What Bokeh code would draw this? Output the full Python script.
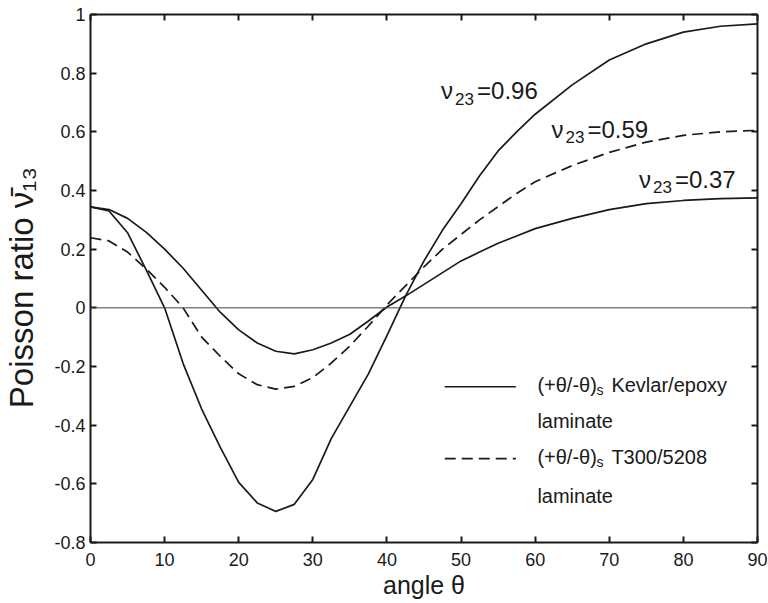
from bokeh.plotting import figure
from bokeh.models import Range1d, LinearAxis, FixedTicker, Label, Span
from bokeh.embed import file_html
from bokeh.resources import INLINE

FONT = "Liberation Sans"
INK = "#1a1a1a"

# ---- data ----
theta = [0, 2.5, 5, 7.5, 10, 12.5, 15, 17.5, 20, 22.5, 25, 27.5, 30, 32.5, 35,
         37.5, 40, 42.5, 45, 47.5, 50, 52.5, 55, 57.5, 60, 65, 70, 75, 80, 85, 90]

# Kevlar/epoxy, nu23 = 0.96 (solid)
nu13_kevlar_096 = [0.344, 0.33, 0.256, 0.13, 0.0, -0.19, -0.345, -0.475, -0.595,
                   -0.665, -0.694, -0.67, -0.585, -0.445, -0.335, -0.225, -0.095,
                   0.04, 0.16, 0.265, 0.355, 0.45, 0.535, 0.6, 0.66, 0.76, 0.845,
                   0.9, 0.94, 0.96, 0.968]
# Kevlar/epoxy, nu23 = 0.37 (solid)
nu13_kevlar_037 = [0.344, 0.335, 0.305, 0.258, 0.2, 0.135, 0.06, -0.015, -0.075,
                   -0.12, -0.148, -0.157, -0.143, -0.12, -0.09, -0.045, 0.003,
                   0.04, 0.08, 0.12, 0.16, 0.19, 0.22, 0.245, 0.27, 0.305, 0.335,
                   0.355, 0.366, 0.372, 0.375]
# T300/5208, nu23 = 0.59 (dashed)
nu13_t300_059 = [0.239, 0.228, 0.19, 0.133, 0.07, 0.0, -0.10, -0.165, -0.225,
                 -0.262, -0.277, -0.268, -0.238, -0.188, -0.13, -0.062, 0.01,
                 0.075, 0.14, 0.2, 0.25, 0.30, 0.345, 0.39, 0.43, 0.485, 0.53,
                 0.565, 0.588, 0.6, 0.605]

x_ticks = [0, 10, 20, 30, 40, 50, 60, 70, 80, 90]
x_tick_labels = ["0", "10", "20", "30", "40", "50", "60", "70", "80", "90"]
y_ticks = [-0.8, -0.6, -0.4, -0.2, 0.0, 0.2, 0.4, 0.6, 0.8, 1.0]
y_tick_labels = ["-0.8", "-0.6", "-0.4", "-0.2", "0", "0.2", "0.4", "0.6", "0.8", "1"]

curve_labels = ["0.96", "0.59", "0.37"]
legend_texts = ["Kevlar/epoxy", "T300/5208"]

# ---- figure ----
p = figure(frame_width=667, frame_height=528,
           x_range=Range1d(0, 90), y_range=Range1d(-0.8, 1.0),
           output_backend="svg", toolbar_location=None,
           min_border_left=90, min_border_top=14, min_border_right=11,
           min_border_bottom=61)
p.xgrid.visible = False
p.ygrid.visible = False
p.outline_line_color = None
p.background_fill_color = "white"
p.border_fill_color = "white"


def style_axis(ax, ticks, labels, show_labels):
    ax.ticker = FixedTicker(ticks=ticks)
    ax.major_tick_in = 6
    ax.major_tick_out = 0
    ax.minor_tick_in = 0
    ax.minor_tick_out = 0
    ax.axis_line_width = 2
    ax.axis_line_color = INK
    ax.major_tick_line_width = 2
    ax.major_tick_line_color = INK
    if show_labels:
        ax.major_label_overrides = {t: l for t, l in zip(ticks, labels)}
        ax.major_label_text_font = FONT
        ax.major_label_text_font_size = "18px"
        ax.major_label_text_color = INK
    else:
        ax.major_label_overrides = {t: "" for t in ticks}
        ax.major_label_text_font_size = "0px"
        ax.major_label_standoff = 0


xa = p.xaxis[0]
style_axis(xa, x_ticks, x_tick_labels, True)
xa.major_label_standoff = 10
xa.axis_label = "angle θ"
xa.axis_label_text_font = FONT
xa.axis_label_text_font_size = "25px"
xa.axis_label_text_font_style = "normal"
xa.axis_label_text_color = INK
xa.axis_label_standoff = 2

ya = p.yaxis[0]
style_axis(ya, y_ticks, y_tick_labels, True)
ya.major_label_standoff = 5
ya.axis_label = "Poisson ratio ν̄₁₃\u00a0\u00a0"
ya.axis_label_text_font = FONT
ya.axis_label_text_font_size = "33px"
ya.axis_label_text_font_style = "normal"
ya.axis_label_text_color = INK
ya.axis_label_standoff = 11

top_ax = LinearAxis()
style_axis(top_ax, x_ticks, x_tick_labels, False)
p.add_layout(top_ax, "above")
right_ax = LinearAxis()
style_axis(right_ax, y_ticks, y_tick_labels, False)
p.add_layout(right_ax, "right")

# zero reference line
p.add_layout(Span(location=0, dimension="width", line_color="#444444", line_width=1))

# curves
p.line(theta, nu13_kevlar_096, line_color=INK, line_width=1.7)
p.line(theta, nu13_kevlar_037, line_color=INK, line_width=1.7)
p.line(theta, nu13_t300_059, line_color=INK, line_width=1.7, line_dash="11 6")


def lab(x, y, text, size, x_offset=0):
    p.add_layout(Label(x=x, y=y, text=text, x_offset=x_offset,
                       text_font=FONT, text_font_size=size, text_color=INK,
                       text_align="left", text_baseline="alphabetic"))


# curve annotations nu_23 = ...
for (lx, ly, lsub), val in zip([(47.3, 0.740, 0.713), (62.2, 0.608, 0.581),
                               (74.0, 0.439, 0.411)], curve_labels):
    lab(lx, ly, "ν", "24px")
    lab(lx, lsub, "23", "17px", x_offset=14)
    lab(lx, ly, "=" + val, "24px", x_offset=36)

# legend (drawn by hand: two-line entries with subscript)
p.segment(x0=[47.8], y0=[-0.269], x1=[57.4], y1=[-0.269], line_color=INK, line_width=1.7)
p.segment(x0=[47.8], y0=[-0.514], x1=[57.4], y1=[-0.514], line_color=INK,
          line_width=1.7, line_dash="11 6")
for (ly1, ly2), name in zip([(-0.262, -0.385), (-0.510, -0.641)], legend_texts):
    lab(60.3, ly1, "(+θ/-θ)", "20px")
    lab(60.3, ly1 - 0.017, "s", "14px", x_offset=59)
    lab(60.3, ly1, name, "20px", x_offset=74)
    lab(60.3, ly2, "laminate", "20px")

open("out.html", "w").write(file_html(p, INLINE))
